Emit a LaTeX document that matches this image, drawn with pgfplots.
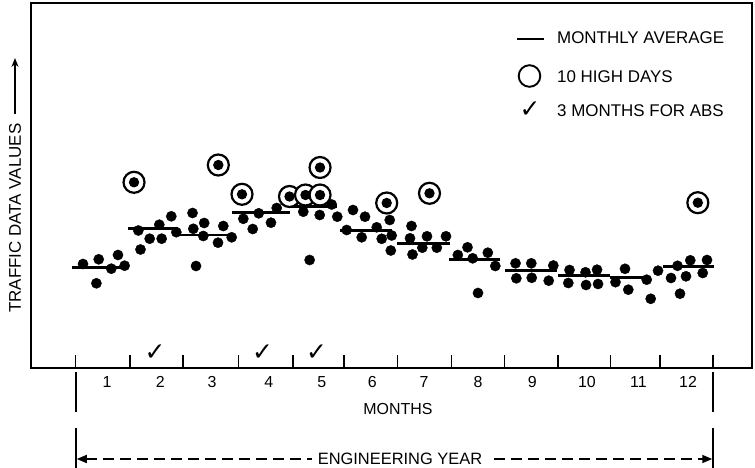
\documentclass[border=0pt]{standalone}
\usepackage{pgfplots}
\pgfplotsset{compat=1.18}
\usepackage{fontspec}
\setmainfont{Liberation Sans}
\newfontfamily\dejavu{DejaVu Sans}
\usetikzlibrary{arrows.meta}
\newcommand\chk{{\dejavu\fontsize{25}{25}\selectfont ✓}}
\pgfdeclareplotmark{ringdot}{%
  \pgfsetlinewidth{2.2bp}%
  \pgfsetstrokecolor{black}%
  \pgfsetfillcolor{white}%
  \pgfpathcircle{\pgfpointorigin}{10.5bp}%
  \pgfusepath{fill,stroke}%
  \pgfsetfillcolor{black}%
  \pgfpathcircle{\pgfpointorigin}{5.2bp}%
  \pgfusepath{fill}%
}
\pgfplotsset{avg/.style={black, line width=2.8bp, no marks}}
\begin{document}
\begin{tikzpicture}
\useasboundingbox (0,0) rectangle (755bp,468bp);
\begin{axis}[
  at={(31bp,100bp)}, anchor=south west,
  scale only axis, width=721bp, height=365bp,
  xmin=-0.3477, xmax=13.2345, ymin=0, ymax=365,
  clip=false,
  axis line style={line width=2bp},
  ytick=\empty,
  xtick={0.492,1.519,2.518,3.561,4.586,5.549,6.556,7.574,8.572,9.578,10.569,11.503,12.502},
  xticklabels={},
  xtick pos=bottom,
  tick align=inside,
  major tick length=13bp,
  tick style={line width=1.5bp, black},
  extra x ticks={1.084,2.090,3.062,4.134,5.132,6.084,7.056,8.073,9.098,10.124,11.095,12.029},
  extra x tick labels={1,2,3,4,5,6,7,8,9,10,11,12},
  extra x tick style={major tick length=0pt},
  xticklabel style={font=\fontsize{16}{19}\selectfont, inner sep=0pt, anchor=north, yshift=-8bp},
]
% monthly averages
\addplot[avg] coordinates {(0.425,100.5) (1.461,100.5)};
\addplot[avg] coordinates {(1.480,139.3) (2.422,139.3)};
\addplot[avg] coordinates {(2.422,133) (3.439,133)};
\addplot[avg] coordinates {(3.439,155.2) (4.531,155.2)};
\addplot[avg] coordinates {(4.531,161.5) (5.417,161.5)};
\addplot[avg] coordinates {(5.473,137.5) (6.453,137.5)};
\addplot[avg] coordinates {(6.547,124.5) (7.546,124.5)};
\addplot[avg] coordinates {(7.527,108.7) (8.487,108.7)};
\addplot[avg] coordinates {(8.582,97.3) (9.561,97.3)};
\addplot[avg] coordinates {(9.580,92.5) (10.560,92.5)};
\addplot[avg] coordinates {(10.560,90.5) (11.313,90.5)};
\addplot[avg] coordinates {(11.558,101.7) (12.519,101.7)};
% daily values
\addplot[only marks, mark=*, mark size=5.1bp, mark options={fill=black, draw=black, line width=0.4bp}] coordinates {
(0.632,104) (0.928,108.7) (0.884,84.7) (1.165,99.3) (1.291,113) (1.416,102.3)
(1.674,137.5) (1.715,118.5) (1.888,129.3) (2.069,143.3) (2.114,129.3) (2.295,151.7) (2.390,135.8)
(2.695,155) (2.710,139.2) (2.915,145) (2.898,132) (2.761,102) (3.175,125.3) (3.275,142) (3.433,130.7)
(3.652,149.2) (3.829,139) (3.942,154.7) (4.173,145.3) (4.281,160)
(4.782,156.3) (5.091,153) (5.317,163.5) (5.422,151.3) (4.901,108)
(5.718,158) (5.599,138) (5.944,151.3) (5.882,130.7) (6.165,140.7) (6.259,129.2) (6.410,148) (6.447,132.5) (6.430,117.5)
(6.820,142) (6.792,129.7) (6.839,113.5) (7.024,120.3) (7.112,131.7) (7.297,120.3) (7.470,131.7)
(7.693,113) (7.875,120.7) (7.973,109.7) (8.258,115.3) (8.399,102) (8.073,75)
(8.780,104.7) (8.795,89.7) (9.077,104.7) (9.085,90.2) (9.405,87.3) (9.492,102.5)
(9.797,98) (9.774,85) (10.098,95.7) (10.108,83) (10.315,98.3) (10.334,84)
(10.663,85.8) (10.842,99.2) (10.904,78.3) (11.251,88.3) (11.326,69.2) (11.464,97.3)
(11.709,90) (11.831,102.2) (11.878,74.3) (11.991,91.7) (12.072,107.7) (12.306,95) (12.387,108)
};
% ten high days
\addplot[only marks, mark=ringdot, black] coordinates {
(1.593,185.7) (3.181,203) (3.627,173.7) (4.522,171.5) (4.823,173) (5.097,173) (5.097,200.5)
(6.353,165) (7.159,174.7) (12.214,165.3)
};
% three months for ABS
\addplot[only marks, mark=text, text mark={\chk}] coordinates {(1.990,15) (4.015,15) (5.031,15)};
\end{axis}
% legend
\draw[line width=2.6bp] (517bp,429bp) -- (544bp,429bp);
\node[anchor=base west, inner sep=0pt, font=\fontsize{17}{20}\selectfont] at (557bp,424bp) {MONTHLY AVERAGE};
\draw[line width=1.9bp] (529.5bp,392bp) circle (10.8bp);
\node[anchor=base west, inner sep=0pt, font=\fontsize{17}{20}\selectfont] at (557bp,385.3bp) {10 HIGH DAYS};
\node at (530bp,358bp) {\chk};
\node[anchor=base west, inner sep=0pt, font=\fontsize{17}{20}\selectfont] at (557bp,351.3bp) {3 MONTHS FOR ABS};
% y label
\node[rotate=90, anchor=west, inner sep=0pt, font=\fontsize{17}{20}\selectfont] at (15bp,155bp) {TRAFFIC DATA VALUES};
\draw[line width=1.5bp, -{Stealth[length=9bp,width=7bp]}] (15bp,354bp) -- (15bp,410bp);
% months label
\node[font=\fontsize{16}{19}\selectfont] at (398bp,59bp) {MONTHS};
% engineering year
\draw[line width=1.5bp] (76bp,96bp) -- (76bp,56bp) (76bp,40bp) -- (76bp,0bp);
\draw[line width=1.5bp] (713bp,96bp) -- (713bp,56bp) (713bp,40bp) -- (713bp,0bp);
\draw[line width=1.5bp, dash pattern=on 11bp off 6bp, {Triangle[length=10bp,width=8bp]}-{Triangle[length=10bp,width=8bp]}] (76.75bp,9bp) -- (712.25bp,9bp);
\node[fill=white, inner xsep=6bp, inner ysep=1bp, font=\fontsize{16.5}{19}\selectfont] at (400bp,9bp) {ENGINEERING YEAR};
\end{tikzpicture}
\end{document}
